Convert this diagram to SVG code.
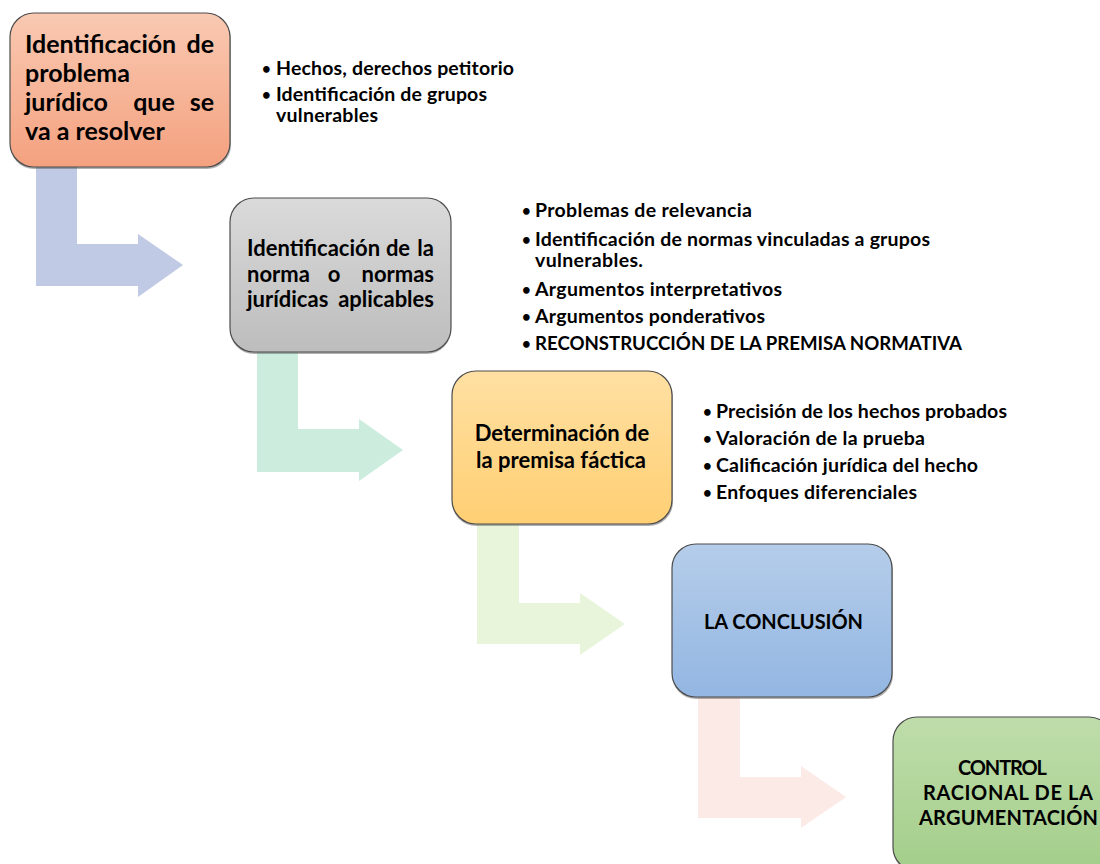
<svg xmlns="http://www.w3.org/2000/svg" width="1100" height="864" viewBox="0 0 1100 864">
<defs>
<linearGradient id="g1" x1="0" y1="0" x2="0" y2="1"><stop offset="0" stop-color="#F9C9B2"/><stop offset="1" stop-color="#F4A17F"/></linearGradient>
<linearGradient id="g2" x1="0" y1="0" x2="0" y2="1"><stop offset="0" stop-color="#DADADA"/><stop offset="1" stop-color="#BDBDBD"/></linearGradient>
<linearGradient id="g3" x1="0" y1="0" x2="0" y2="1"><stop offset="0" stop-color="#FFE0A3"/><stop offset="1" stop-color="#FFCF73"/></linearGradient>
<linearGradient id="g4" x1="0" y1="0" x2="0" y2="1"><stop offset="0" stop-color="#B5CDEA"/><stop offset="1" stop-color="#93B6E2"/></linearGradient>
<linearGradient id="g5" x1="0" y1="0" x2="0" y2="1"><stop offset="0" stop-color="#BFDDAB"/><stop offset="1" stop-color="#A3CE8A"/></linearGradient>
</defs>
<style>
.box{stroke:#4d4d4d;stroke-width:1.2}
.shadow{fill:#555;opacity:0.45}
.t{font-family:Lato,"Liberation Sans",sans-serif;font-weight:bold;fill:#000}
.b1{font-size:25px}
.b2{font-size:22px}
.b3{font-size:22px}
.b4{font-size:20px}
.li{font-size:19.5px}
.bu{font-size:15px}
.e{text-anchor:end}
.m{text-anchor:middle}
</style>
<rect width="1100" height="864" fill="#fff"/>
<g id="connectors">
<path d="M36,160 V286 H138 V297 L183,265 L138,234 V244 H77 V160 Z" fill="#C0CAE4"/>
<path d="M257,345 V472 H359 V481 L403,450 L359,419 V429 H298 V345 Z" fill="#CCEDDE"/>
<path d="M477,517 V644 H580 V655 L625,624 L580,593 V603 H519 V517 Z" fill="#E9F5DB"/>
<path d="M698,690 V818 H801 V828 L846,797 L801,766 V777 H740 V690 Z" fill="#FBEAE5"/>
</g>
<g id="node1">
<rect class="shadow" x="10" y="15" width="221" height="154" rx="24"/>
<rect class="box" x="10" y="13" width="220" height="154" rx="24" fill="url(#g1)"/>
<text class="t b1" x="25" y="53">Identificación</text><text class="t b1 e" x="214" y="53">de</text>
<text class="t b1" x="25" y="82">problema</text>
<text class="t b1" x="25" y="111">jurídico</text><text class="t b1 m" x="154" y="111">que</text><text class="t b1 e" x="214" y="111">se</text>
<text class="t b1" x="25" y="140">va a resolver</text>
</g>
<g id="list1">
<text class="t bu" x="262" y="74">•</text><text class="t li" x="276" y="75" textLength="238" lengthAdjust="spacing">Hechos, derechos petitorio</text>
<text class="t bu" x="262" y="100">•</text><text class="t li" x="276" y="101" textLength="211" lengthAdjust="spacing">Identificación de grupos</text>
<text class="t li" x="276" y="122" textLength="102" lengthAdjust="spacing">vulnerables</text>
</g>
<g id="node2">
<rect class="shadow" x="230" y="200" width="221" height="154" rx="24"/>
<rect class="box" x="230" y="198" width="221" height="154" rx="24" fill="url(#g2)"/>
<text class="t b2" x="247" y="256">Identificación</text><text class="t b2 m" x="398" y="256">de</text><text class="t b2 e" x="434" y="256">la</text>
<text class="t b2" x="247" y="282">norma</text><text class="t b2 m" x="334" y="282">o</text><text class="t b2 e" x="434" y="282">normas</text>
<text class="t b2" x="247" y="307">jurídicas</text><text class="t b2 e" x="434" y="307">aplicables</text>
</g>
<g id="list2">
<text class="t bu" x="522" y="216">•</text><text class="t li" x="535" y="217" textLength="217" lengthAdjust="spacing">Problemas de relevancia</text>
<text class="t bu" x="522" y="245">•</text><text class="t li" x="535" y="246" textLength="395" lengthAdjust="spacing">Identificación de normas vinculadas a grupos</text>
<text class="t li" x="535" y="267" textLength="108" lengthAdjust="spacing">vulnerables.</text>
<text class="t bu" x="522" y="295">•</text><text class="t li" x="535" y="296" textLength="247" lengthAdjust="spacing">Argumentos interpretativos</text>
<text class="t bu" x="522" y="322">•</text><text class="t li" x="535" y="323" textLength="230" lengthAdjust="spacing">Argumentos ponderativos</text>
<text class="t bu" x="522" y="349">•</text><text class="t li" x="535" y="350" textLength="427" lengthAdjust="spacingAndGlyphs">RECONSTRUCCIÓN DE LA PREMISA NORMATIVA</text>
</g>
<g id="node3">
<rect class="shadow" x="452" y="373" width="221" height="153" rx="24"/>
<rect class="box" x="452" y="371" width="220" height="153" rx="24" fill="url(#g3)"/>
<text class="t b3 m" x="562" y="441">Determinación de</text>
<text class="t b3 m" x="561" y="468">la premisa fáctica</text>
</g>
<g id="list3">
<text class="t bu" x="703" y="417">•</text><text class="t li" x="716" y="418" textLength="291" lengthAdjust="spacing">Precisión de los hechos probados</text>
<text class="t bu" x="703" y="444">•</text><text class="t li" x="716" y="445" textLength="209" lengthAdjust="spacing">Valoración de la prueba</text>
<text class="t bu" x="703" y="471">•</text><text class="t li" x="716" y="472" textLength="262" lengthAdjust="spacing">Calificación jurídica del hecho</text>
<text class="t bu" x="703" y="498">•</text><text class="t li" x="716" y="499" textLength="201" lengthAdjust="spacing">Enfoques diferenciales</text>
</g>
<g id="node4">
<rect class="shadow" x="672" y="546" width="221" height="153" rx="24"/>
<rect class="box" x="672" y="544" width="220" height="153" rx="24" fill="url(#g4)"/>
<text class="t b4" x="704" y="629" textLength="159" lengthAdjust="spacing">LA CONCLUSIÓN</text>
</g>
<g id="node5">
<rect class="shadow" x="893" y="719" width="221" height="154" rx="24"/>
<rect class="box" x="893" y="717" width="220" height="154" rx="24" fill="url(#g5)"/>
<text class="t b4" x="958" y="775" textLength="89" lengthAdjust="spacing">CONTROL</text>
<text class="t b4" x="923" y="800" textLength="170" lengthAdjust="spacing">RACIONAL DE LA</text>
<text class="t b4" x="919" y="825" textLength="179" lengthAdjust="spacing">ARGUMENTACIÓN</text>
</g>
</svg>
